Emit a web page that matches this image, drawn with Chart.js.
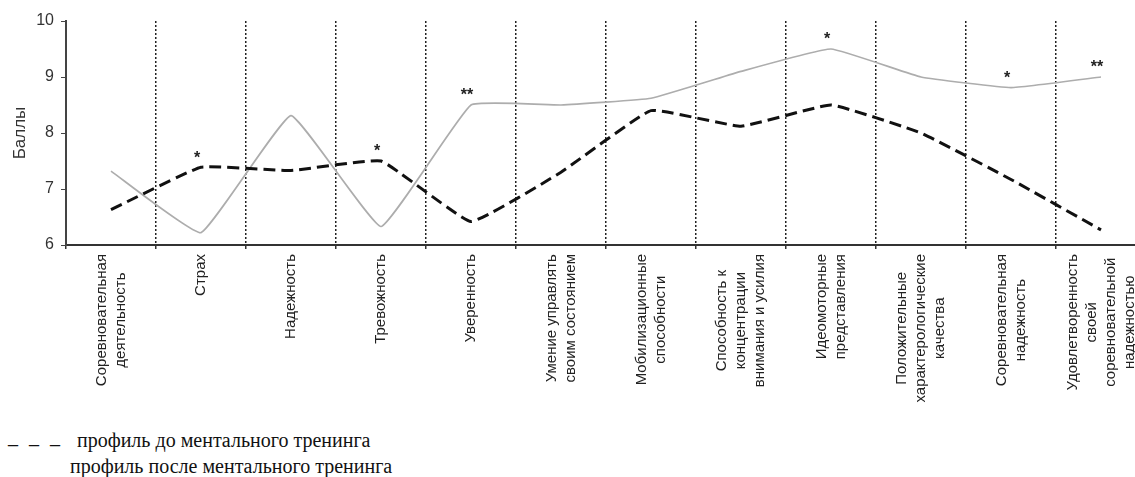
<!DOCTYPE html>
<html lang="ru">
<head>
<meta charset="utf-8">
<title>Профиль до и после ментального тренинга</title>
<script src="https://cdn.jsdelivr.net/npm/chart.js@4.4.1/dist/chart.umd.min.js"></script>
<style>
  html, body { margin: 0; padding: 0; background: #fff; overflow: hidden; }
  #wrap { position: relative; width: 1135px; height: 477px; overflow: hidden; }
  #chart { position: absolute; left: 0; top: 0; }
  .legend { position: absolute; font-family: "Liberation Serif", "Times New Roman", serif; font-size: 20px; line-height: 20px; color: #111; white-space: nowrap; }
</style>
</head>
<body>
<div id="wrap">
  <canvas id="chart" width="1146" height="405"></canvas>
  <div class="legend" style="left:8px; top:426px; word-spacing:6px;">_ _ _</div>
  <div class="legend" style="left:77px; top:430px;">профиль до ментального тренинга</div>
  <div class="legend" style="left:70px; top:456px;">профиль после ментального тренинга</div>
</div>
<script>
// Категории (подписи по строкам)
const categories = [
    ['Соревновательная', 'деятельность'],
    ['Страх'],
    ['Надежность'],
    ['Тревожность'],
    ['Уверенность'],
    ['Умение управлять', 'своим состоянием'],
    ['Мобилизационные', 'способности'],
    ['Способность к', 'концентрации', 'внимания и усилия'],
    ['Идеомоторные', 'представления'],
    ['Положительные', 'характерологические', 'качества'],
    ['Соревновательная', 'надежность'],
    ['Удовлетворенность', 'своей', 'соревновательной', 'надежностью']
];

// Профиль до тренинга (пунктир)
const beforeValues = [6.63, 7.39, 7.33, 7.5, 6.42, 7.3, 8.4, 8.12, 8.5, 8.0, 7.17, 6.27];
// Профиль после тренинга (серая линия)
const afterValues = [7.32, 6.22, 8.31, 6.33, 8.5, 8.5, 8.62, 9.1, 9.5, 9.0, 8.81, 9.0];

// Значимость различий
const beforeMarks = ['', '*', '', '*', '', '', '', '', '', '', '', ''];
const afterMarks = ['', '', '', '', '**', '', '', '', '*', '', '*', '**'];

const yTicks = [6, 7, 8, 9, 10];

const fontFamily = '"Liberation Sans", Arial, sans-serif';

// Подписи категорий и звездочки
const extrasPlugin = {
    id: 'extras',
    afterDraw(chart) {
        const ctx = chart.ctx;
        const xs = chart.scales.x;
        ctx.save();

        ctx.fillStyle = '#222';
        ctx.font = '15px ' + fontFamily;
        ctx.textAlign = 'center';
        ctx.textBaseline = 'middle';
        const lineGap = 19;
        categories.forEach((lines, i) => {
            const x = xs.getPixelForValue(i);
            const maxW = Math.max(...lines.map(l => ctx.measureText(l).width));
            const yMid = xs.top + 9 + maxW / 2;
            lines.forEach((line, j) => {
                const lx = x + (j - (lines.length - 1) / 2) * lineGap;
                ctx.save();
                ctx.translate(lx, yMid);
                ctx.rotate(-Math.PI / 2);
                ctx.fillText(line, 0, 0);
                ctx.restore();
            });
        });

        ctx.font = 'bold 16px ' + fontFamily;
        ctx.fillStyle = '#222';
        [beforeMarks, afterMarks].forEach((marks, d) => {
            const meta = chart.getDatasetMeta(d);
            marks.forEach((m, i) => {
                if (!m) return;
                const pt = meta.data[i];
                ctx.fillText(m, pt.x - 4, pt.y - 9);
            });
        });
        ctx.restore();
    }
};

window.onload = function() {
    window.profileChart = new Chart(document.getElementById('chart'), {
        type: 'line',
        data: {
            labels: categories,
            datasets: [
                {
                    label: 'профиль до ментального тренинга',
                    data: beforeValues,
                    borderColor: '#111',
                    borderWidth: 3,
                    borderDash: [12, 6],
                    pointRadius: 0,
                    tension: 0.1,
                    fill: false
                },
                {
                    label: 'профиль после ментального тренинга',
                    data: afterValues,
                    borderColor: '#adadad',
                    borderWidth: 1.7,
                    pointRadius: 0,
                    tension: 0.1,
                    fill: false
                }
            ]
        },
        options: {
            responsive: false,
            animation: false,
            devicePixelRatio: 1,
            layout: { padding: { top: 21, right: 0, bottom: 0, left: 0 } },
            plugins: {
                legend: { display: false },
                tooltip: { enabled: false }
            },
            scales: {
                x: {
                    type: 'category',
                    offset: true,
                    grid: {
                        offset: true,
                        color: '#222',
                        lineWidth: 1.5,
                        drawTicks: true,
                        tickLength: 4,
                        tickColor: '#333',
                        tickWidth: 1.5
                    },
                    border: { display: true, color: '#333', width: 2, dash: [2, 2] },
                    ticks: { display: false },
                    afterFit(scale) { scale.height = 160; }
                },
                y: {
                    min: 6,
                    max: 10,
                    afterBuildTicks(scale) { scale.ticks = yTicks.map(v => ({ value: v })); },
                    ticks: {
                        color: '#333',
                        padding: 7,
                        font: { size: 16, family: fontFamily }
                    },
                    grid: {
                        drawOnChartArea: false,
                        drawTicks: true,
                        tickLength: 5,
                        color: '#444'
                    },
                    border: { color: '#444', width: 2 },
                    title: {
                        display: true,
                        text: 'Баллы',
                        color: '#333',
                        font: { size: 17, family: fontFamily },
                        padding: { top: 10, bottom: 0 }
                    },
                    afterFit(scale) { scale.width = 66; }
                }
            }
        },
        plugins: [extrasPlugin]
    });
};
</script>
</body>
</html>
